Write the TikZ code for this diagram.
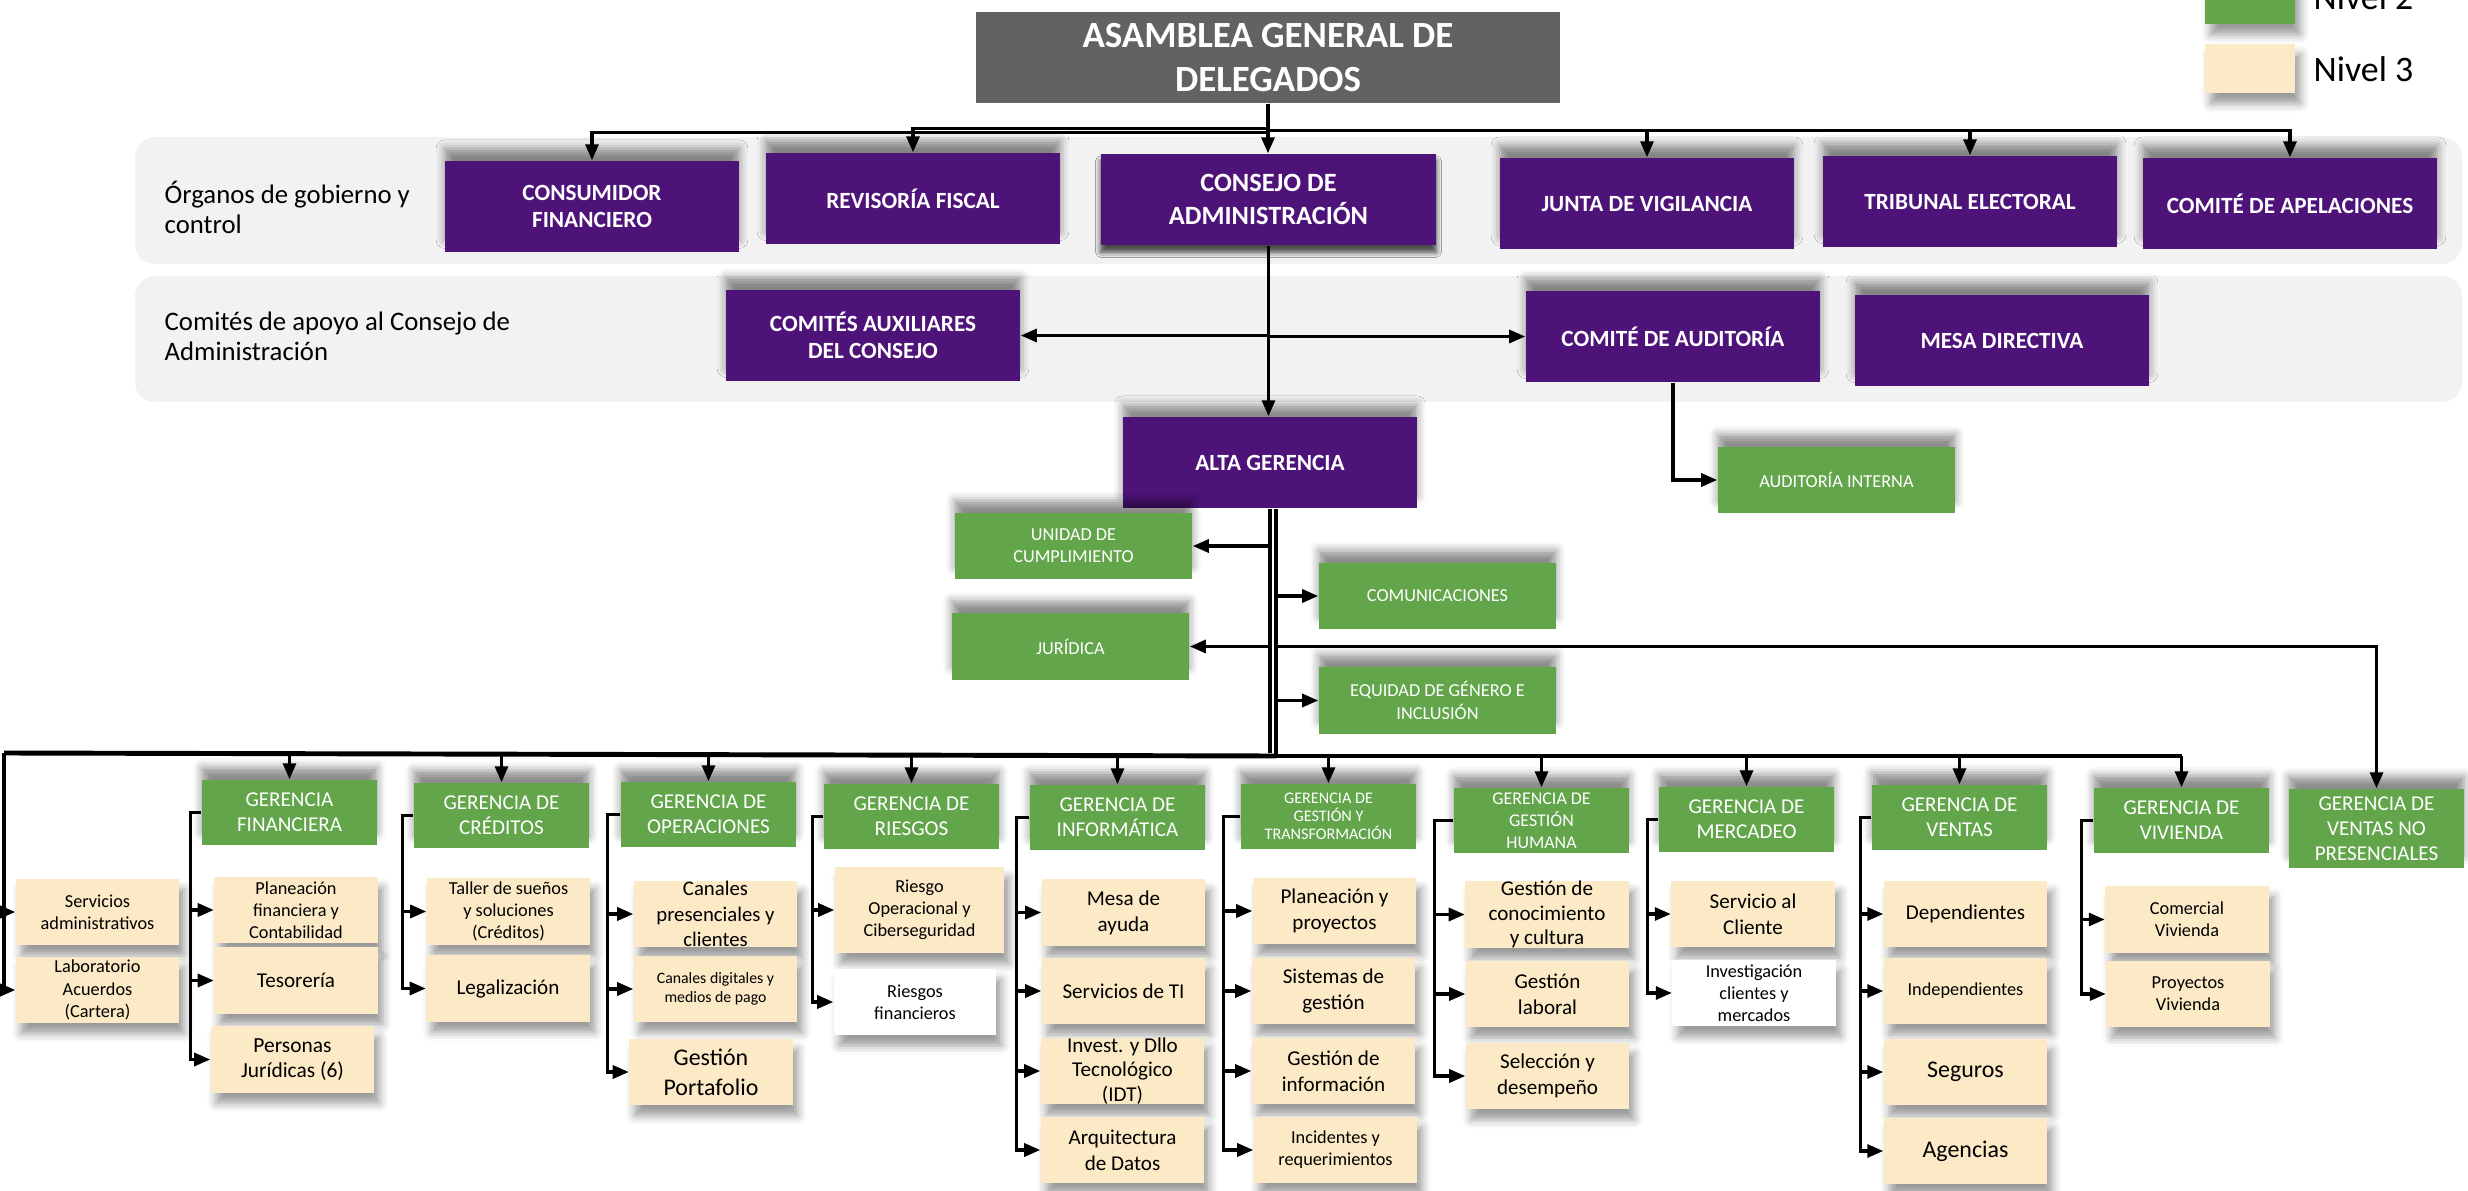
\documentclass[tikz,border=0pt]{standalone}
\usepackage{fontspec}
\setmainfont{Carlito}
\usetikzlibrary{arrows.meta,shadows.blur}

\definecolor{morado}{HTML}{4E1379}
\definecolor{verde}{HTML}{62A54A}
\definecolor{crema}{HTML}{FCE9C6}
\definecolor{gristit}{HTML}{626262}
\definecolor{franja}{HTML}{F2F2F2}

\begin{document}
\begin{tikzpicture}[x=0.01cm, y=-0.01cm,
    titulo/.style={fill=gristit, text=white, font=\bfseries\fontsize{10.5}{12.5}\selectfont,
      minimum width=5.84cm, minimum height=0.91cm, inner sep=0pt, align=center},
    nivel1/.style={fill=morado, text=white, font=\bfseries\fontsize{6.6}{7.7}\selectfont,
      minimum width=2.94cm, minimum height=0.91cm, inner sep=0pt, align=center,
      blur shadow={shadow xshift=0pt, shadow yshift=3.5pt, shadow blur radius=2.5pt, shadow opacity=45}},
    nivel2/.style={fill=verde, text=white, font=\fontsize{5.2}{6.3}\selectfont,
      minimum width=2.37cm, minimum height=0.66cm, inner sep=0pt, align=center,
      blur shadow={shadow xshift=0pt, shadow yshift=3.5pt, shadow blur radius=2.5pt, shadow opacity=45}},
    gerencia/.style={nivel2, font=\fontsize{6}{7.1}\selectfont,
      minimum width=1.75cm, minimum height=0.65cm},
    nivel3/.style={fill=crema, text=black, font=\fontsize{6}{7.4}\selectfont,
      minimum width=1.63cm, minimum height=0.66cm, inner sep=0pt, align=center,
      blur shadow={shadow xshift=1.5pt, shadow yshift=-3pt, shadow blur radius=2.5pt}},
    chico/.style={font=\fontsize{5.2}{6.3}\selectfont},
    etiqueta/.style={font=\fontsize{7.6}{8.5}\selectfont, align=left, anchor=west, inner sep=0pt},
    linea/.style={line width=0.9pt},
    bus/.style={line width=1.4pt},
    flecha/.style={line width=0.9pt, -{Triangle[length=0.16cm,width=0.13cm]}}]

  \useasboundingbox (0,0) rectangle (2468,1191);

  \fill[franja, rounded corners=0.2cm] (135,137) rectangle (2462,264);
  \fill[franja, rounded corners=0.2cm] (135,276) rectangle (2462,402);
  \node[etiqueta] (organos) at (164,207) {Órganos de gobierno y\\control};
  \node[etiqueta] (comites) at (164,336) {Comités de apoyo al Consejo de\\Administración};

  \node[titulo] (asamblea) at (1268,57.5) {ASAMBLEA GENERAL DE\\DELEGADOS};

  \begin{scope}[every node/.style={nivel1}]
    \node (consumidor)  at (592,206.5)  {CONSUMIDOR\\FINANCIERO};
    \node (revisoria)   at (913,198.5)  {REVISORÍA FISCAL};
    \node[minimum width=3.35cm, font=\bfseries\fontsize{7.5}{9.4}\selectfont,
      blur shadow={shadow xshift=0pt, shadow yshift=-2pt, shadow blur radius=1.5pt}]
                        (consejo)     at (1268.5,199.5) {CONSEJO DE\\ADMINISTRACIÓN};
    \node (junta)       at (1647,203.5) {JUNTA DE VIGILANCIA};
    \node (tribunal)    at (1970,201.5) {TRIBUNAL ELECTORAL};
    \node (apelaciones) at (2290,203.5) {COMITÉ DE APELACIONES};
    \node (auxiliares)  at (873,335.5)  {COMITÉS AUXILIARES\\DEL CONSEJO};
    \node (auditoria)   at (1673,336.5) {COMITÉ DE AUDITORÍA};
    \node (mesa)        at (2002,340.5) {MESA DIRECTIVA};
    \node (alta)        at (1270,462.5) {ALTA GERENCIA};
  \end{scope}

  \begin{scope}[every node/.style={nivel2}]
    \node (audint)         at (1836.5,480)  {AUDITORÍA INTERNA};
    \node (cumplimiento)   at (1073.5,546)  {UNIDAD DE\\CUMPLIMIENTO};
    \node (juridica)       at (1070.5,646.5) {JURÍDICA};
    \node (comunicaciones) at (1437.5,596)  {COMUNICACIONES};
    \node (equidad)        at (1437.5,700.5) {EQUIDAD DE GÉNERO E\\INCLUSIÓN};
  \end{scope}

  \begin{scope}[every node/.style={gerencia}]
    \node (financiera)  at (289.5,812.5)  {GERENCIA\\FINANCIERA};
    \node (creditos)    at (501.5,815.5)  {GERENCIA DE\\CRÉDITOS};
    \node (operaciones) at (708.5,814.5)  {GERENCIA DE\\OPERACIONES};
    \node (riesgos)     at (911.5,816.5)  {GERENCIA DE\\RIESGOS};
    \node (informatica) at (1117.5,817.5) {GERENCIA DE\\INFORMÁTICA};
    \node[font=\fontsize{4.6}{5.2}\selectfont]
                        (gestrans)    at (1328.5,816.5) {GERENCIA DE\\GESTIÓN Y\\TRANSFORMACIÓN};
    \node[font=\fontsize{5.1}{6.2}\selectfont]
                        (gesthum)     at (1541.5,820.5) {GERENCIA DE\\GESTIÓN\\HUMANA};
    \node (mercadeo)    at (1746.5,819.5) {GERENCIA DE\\MERCADEO};
    \node (ventas)      at (1959.5,817.5) {GERENCIA DE\\VENTAS};
    \node (vivienda)    at (2181.5,820.5) {GERENCIA DE\\VIVIENDA};
    \node[minimum height=0.79cm]
                        (ventasnp)    at (2376.5,828.5) {GERENCIA DE\\VENTAS NO\\PRESENCIALES};
  \end{scope}

  \begin{scope}[every node/.style={nivel3}]
    \node[chico] (servadm)     at (97.5,912)   {Servicios\\administrativos};
    \node[chico] (laboratorio) at (97.5,990)   {Laboratorio\\Acuerdos\\(Cartera)};
    \node[chico] (planfin)     at (296,910)    {Planeación\\financiera y\\Contabilidad};
    \node (tesoreria)          at (296,980.5)  {Tesorería};
    \node[font=\fontsize{6.1}{7.1}\selectfont]
                 (personas)    at (292.5,1059.5) {Personas\\Jurídicas (6)};
    \node[chico] (taller)      at (508.5,911.5) {Taller de sueños\\y soluciones\\(Créditos)};
    \node (legalizacion)       at (508,988.5)  {Legalización};
    \node[font=\fontsize{5.9}{7.2}\selectfont]
                 (canalpres)   at (715.5,914)  {Canales\\presenciales y\\clientes};
    \node[font=\fontsize{4.5}{5.4}\selectfont]
                 (canaldig)    at (715.5,989)  {Canales digitales y\\medios de pago};
    \node[font=\fontsize{6.8}{8.5}\selectfont]
                 (portafolio)  at (711,1072)   {Gestión\\Portafolio};
    \node[chico, minimum width=1.69cm, minimum height=0.86cm]
                 (riesgoop)    at (919.5,910)  {Riesgo\\Operacional y\\Ciberseguridad};
    \node[chico, fill=white, minimum width=1.62cm]
                 (riesgofin)   at (915,1002)   {Riesgos\\financieros};
    \node (mesaayuda)          at (1123.5,912.5) {Mesa de\\ayuda};
    \node (servti)             at (1123.5,991) {Servicios de TI};
    \node[font=\fontsize{6}{7}\selectfont]
                 (idt)         at (1122.5,1071) {Invest. y Dllo\\Tecnológico\\(IDT)};
    \node (arquitectura)       at (1122.5,1150) {Arquitectura\\de Datos};
    \node (planproy)           at (1334.5,911) {Planeación y\\proyectos};
    \node (sistemas)           at (1333.5,991) {Sistemas de\\gestión};
    \node (gestinfo)           at (1333.5,1071) {Gestión de\\información};
    \node[chico] (incidentes)  at (1335.5,1150) {Incidentes y\\requerimientos};
    \node[font=\fontsize{6}{7}\selectfont]
                 (conocimiento) at (1547,914.5) {Gestión de\\conocimiento\\y cultura};
    \node (laboral)            at (1547.5,994) {Gestión\\laboral};
    \node (seleccion)          at (1547.5,1076) {Selección y\\desempeño};
    \node (servcliente)        at (1753,914)   {Servicio al\\Cliente};
    \node[chico, fill=white]
                 (investigacion) at (1754,993) {Investigación\\clientes y\\mercados};
    \node (dependientes)       at (1965.5,914) {Dependientes};
    \node[chico] (independientes) at (1965.5,991) {Independientes};
    \node[font=\fontsize{6.8}{8}\selectfont] (seguros)  at (1965.5,1072) {Seguros};
    \node[font=\fontsize{6.8}{8}\selectfont] (agencias) at (1965.5,1151) {Agencias};
    \node[chico] (comercial)   at (2187,919.5) {Comercial\\Vivienda};
    \node[chico] (proyectos)   at (2188,994)   {Proyectos\\Vivienda};
  \end{scope}

  \node[fill=verde, minimum width=0.9cm, minimum height=0.49cm, inner sep=0pt,
    blur shadow={shadow xshift=1.5pt, shadow yshift=-3pt, shadow blur radius=2.5pt}] (leyenda2) at (2250,-0.5) {};
  \node[fill=crema, minimum width=0.9cm, minimum height=0.49cm, inner sep=0pt,
    blur shadow={shadow xshift=1.5pt, shadow yshift=-3pt, shadow blur radius=2.5pt}] (leyenda3) at (2250,68.5) {};
  \node[anchor=base west, inner sep=0pt, font=\fontsize{10.2}{12}\selectfont] (nivel2txt) at (2313,10) {Nivel 2};
  \node[anchor=base west, inner sep=0pt, font=\fontsize{10.2}{12}\selectfont] (nivel3txt) at (2313,82) {Nivel 3};

  \draw[flecha] (asamblea.south) -- (asamblea.south |- consejo.north);
  \draw[flecha] (asamblea.south) -- ++(0,25) -| (revisoria.north);
  \draw[flecha] (asamblea.south) -- ++(0,29) -| (consumidor.north);
  \draw[flecha] (asamblea.south) -- ++(0,27) -| (junta.north);
  \draw[flecha] (asamblea.south) -- ++(0,27) -| (tribunal.north);
  \draw[flecha] (asamblea.south) -- ++(0,27) -| (apelaciones.north);

  \draw[flecha] (consejo.south) -- (consejo.south |- alta.north);
  \draw[flecha] (consejo.south |- auxiliares.east) -- (auxiliares.east);
  \draw[flecha] (consejo.south |- auditoria.west) -- (auditoria.west);
  \draw[flecha] (auditoria.south) |- (audint.west);

  \coordinate (troncoI) at (1270,753);
  \coordinate (troncoD) at (1276,756);
  \coordinate (busL) at (4,753);
  \draw[linea] (alta.south -| troncoI) -- (troncoI);
  \draw[linea] (alta.south -| troncoD) -- (troncoD);
  \draw[flecha] (troncoI |- cumplimiento.east) -- (cumplimiento.east);
  \draw[flecha] (troncoI |- juridica.east) -- (juridica.east);
  \draw[flecha] (troncoD |- comunicaciones.west) -- (comunicaciones.west);
  \draw[flecha] (troncoD |- equidad.west) -- (equidad.west);
  \draw[flecha] (troncoD |- juridica.east) -| (ventasnp.north);

  \draw[bus] (busL) -- (troncoD);
  \draw[linea] (troncoD) -- (troncoD -| vivienda.north);
  \draw[flecha] (busL) |- (servadm.west);
  \draw[flecha] (busL) |- (laboratorio.west);
  \draw[flecha] (busL -| financiera.north) -- (financiera.north);
  \draw[flecha] (busL -| creditos.north) -- (creditos.north);
  \draw[flecha] (busL -| operaciones.north) -- (operaciones.north);
  \draw[flecha] (busL -| riesgos.north) -- (riesgos.north);
  \draw[flecha] (busL -| informatica.north) -- (informatica.north);
  \draw[flecha] (troncoD -| gestrans.north) -- (gestrans.north);
  \draw[flecha] (troncoD -| gesthum.north) -- (gesthum.north);
  \draw[flecha] (troncoD -| mercadeo.north) -- (mercadeo.north);
  \draw[flecha] (troncoD -| ventas.north) -- (ventas.north);
  \draw[flecha] (troncoD -| vivienda.north) -- (vivienda.north);

  \draw[flecha] (financiera.west) -- ++(-11,0) |- (planfin.west);
  \draw[flecha] (financiera.west) -- ++(-11,0) |- (tesoreria.west);
  \draw[flecha] (financiera.west) -- ++(-11,0) |- (personas.west);
  \draw[flecha] (creditos.west) -- ++(-11,0) |- (taller.west);
  \draw[flecha] (creditos.west) -- ++(-11,0) |- (legalizacion.west);
  \draw[flecha] (operaciones.west) -- ++(-13,0) |- (canalpres.west);
  \draw[flecha] (operaciones.west) -- ++(-13,0) |- (canaldig.west);
  \draw[flecha] (operaciones.west) -- ++(-13,0) |- (portafolio.west);
  \draw[flecha] (riesgos.west) -- ++(-11,0) |- (riesgoop.west);
  \draw[flecha] (riesgos.west) -- ++(-11,0) |- (riesgofin.west);
  \draw[flecha] (informatica.west) -- ++(-13,0) |- (mesaayuda.west);
  \draw[flecha] (informatica.west) -- ++(-13,0) |- (servti.west);
  \draw[flecha] (informatica.west) -- ++(-13,0) |- (idt.west);
  \draw[flecha] (informatica.west) -- ++(-13,0) |- (arquitectura.west);
  \draw[flecha] (gestrans.west) -- ++(-17,0) |- (planproy.west);
  \draw[flecha] (gestrans.west) -- ++(-17,0) |- (sistemas.west);
  \draw[flecha] (gestrans.west) -- ++(-17,0) |- (gestinfo.west);
  \draw[flecha] (gestrans.west) -- ++(-17,0) |- (incidentes.west);
  \draw[flecha] (gesthum.west) -- ++(-19,0) |- (conocimiento.west);
  \draw[flecha] (gesthum.west) -- ++(-19,0) |- (laboral.west);
  \draw[flecha] (gesthum.west) -- ++(-19,0) |- (seleccion.west);
  \draw[flecha] (mercadeo.west) -- ++(-11,0) |- (servcliente.west);
  \draw[flecha] (mercadeo.west) -- ++(-11,0) |- (investigacion.west);
  \draw[flecha] (ventas.west) -- ++(-11,0) |- (dependientes.west);
  \draw[flecha] (ventas.west) -- ++(-11,0) |- (independientes.west);
  \draw[flecha] (ventas.west) -- ++(-11,0) |- (seguros.west);
  \draw[flecha] (ventas.west) -- ++(-11,0) |- (agencias.west);
  \draw[flecha] (vivienda.west) -- ++(-12,0) |- (comercial.west);
  \draw[flecha] (vivienda.west) -- ++(-12,0) |- (proyectos.west);

\end{tikzpicture}
\end{document}
